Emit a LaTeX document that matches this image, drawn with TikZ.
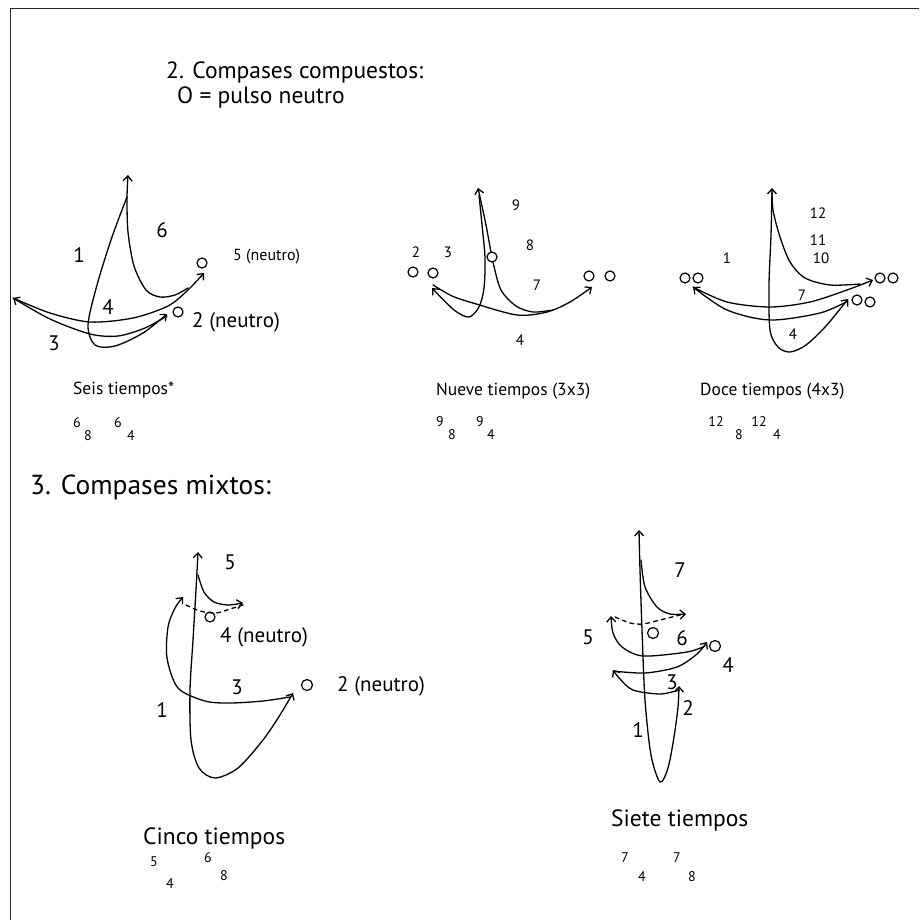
\documentclass[tikz,border=0pt]{standalone}
\usepackage{fontspec}
\setmainfont{PT Sans}
\usetikzlibrary{arrows.meta}
\begin{document}
\begin{tikzpicture}[x=1pt,y=-1pt,
  stroke/.style={line width=1.3pt, line cap=round, line join=round},
  tipa/.tip={Straight Barb[length=5pt,width=9pt,line width=1.3pt]},
  arr/.style={stroke, -tipa},
  darr/.style={stroke, tipa-tipa},
  dsh/.style={stroke, dash pattern=on 4pt off 4pt},
  ring/.style={circle, draw, line width=1.2pt, minimum size=10pt, inner sep=0pt},
  big/.style={font=\fontsize{21}{23}\selectfont, inner sep=0pt},
  med/.style={font=\fontsize{15}{17}\selectfont, inner sep=0pt},
  sml/.style={font=\fontsize{16}{18}\selectfont, inner sep=0pt},
  captxt/.style={font=\fontsize{17.5}{19}\selectfont, inner sep=0pt, anchor=west},
  ts/.style={font=\fontsize{14}{16}\selectfont, inner sep=0pt},
  title/.style={font=\fontsize{23.5}{26}\selectfont, inner sep=0pt, anchor=west},
]
\useasboundingbox (0,0) rectangle (919,920);
\draw[line width=1.5pt, draw=black!85] (10.5,920) -- (10.5,8.5) -- (919,8.5);

% headings
\node[title] (h1) at (166,72) {2. Compases compuestos:};
\node[title] (h2) at (177,97) {O = pulso neutro};
\node[title, font=\fontsize{27.5}{30}\selectfont] (h3) at (30,487) {3. Compases mixtos:};

% ---------- Diagram 1: Seis tiempos ----------
\node[ring] (c1a) at (202,263) {};
\node[ring] (c1b) at (178,312) {};
\draw[arr] plot[smooth] coordinates {(127,197) (112,237) (97,285) (88,325) (95,345) (115,346) (143,333) (167,314)};
\draw[arr] plot[smooth] coordinates {(167,316) (145,328) (118,336) (90,334) (50,319) (13,298)};
\draw[arr] plot[smooth] coordinates {(13,298) (50,313) (90,322) (133,318) (168,306) (188,290) (204,273)};
\draw[arr] plot[smooth] coordinates {(188,288) (175,295) (160,297) (146,290) (134,266) (128,232) (127,198) (128,175)};
\node[big] (l6) at (162,230) {6};
\node[big] (l1) at (79,255) {1};
\node[big] (l4) at (108,307) {4};
\node[big] (l3) at (54,343) {3};
\node[sml, anchor=west] (l5n) at (233,257) {5 (neutro)};
\node[big, anchor=west] (l2n) at (192,322) {2 (neutro)};
\node[captxt] (t1) at (73,390) {Seis tiempos*};
\node[ts] at (77,423) {6};
\node[ts] at (88,436) {8};
\node[ts] at (118,423) {6};
\node[ts] at (131,436) {4};

% ---------- Diagram 2: Nueve tiempos ----------
\node[ring] (c2a) at (413,272) {};
\node[ring] (c2b) at (433,273) {};
\node[ring] (c2d) at (589,276) {};
\node[ring] (c2e) at (610,276) {};
\draw[arr] plot[smooth] coordinates {(479,195) (482,225) (485,258) (484,288) (479,307) (469,317) (454,310) (432,288)};
\draw[arr] plot[smooth] coordinates {(433,285) (452,296) (473,303) (517,315) (547,312) (570,302) (592,287)};
\draw[arr] plot[smooth] coordinates {(553,310) (533,312) (516,306) (501,290) (493,262) (486,225) (478,188)};
\node[ring, fill=white] (c2c) at (492,257) {};
\node[med] at (516,205) {9};
\node[med] at (416,252) {2};
\node[med] at (448,252) {3};
\node[med] at (530,245) {8};
\node[med] at (537,285) {7};
\node[med] at (520,340) {4};
\node[captxt] (t2) at (436,391) {Nueve tiempos (3x3)};
\node[ts] at (440,422) {9};
\node[ts] at (452,435) {8};
\node[ts] at (480,422) {9};
\node[ts] at (491,435) {4};

% ---------- Diagram 3: Doce tiempos ----------
\node[ring] (c3a) at (685,278) {};
\node[ring] (c3b) at (698,278) {};
\node[ring] (c3c) at (880,278) {};
\node[ring] (c3d) at (893,278) {};
\node[ring] (c3e) at (857,300) {};
\node[ring] (c3f) at (870,302) {};
\draw[arr] plot[smooth] coordinates {(772,192) (771,235) (769,285) (770,330) (778,347) (790,352) (806,345) (826,326) (848,299)};
\draw[arr] plot[smooth] coordinates {(848,301) (820,313) (770,320) (727,310) (693,287)};
\draw[arr] plot[smooth] coordinates {(693,287) (727,302) (770,307) (810,302) (847,290) (873,280)};
\draw[arr] plot[smooth] coordinates {(860,284) (830,285) (805,278) (790,262) (780,237) (773,210) (772,188)};
\node[med] at (818,213) {12};
\node[med] at (818,240) {11};
\node[med] at (821,258) {10};
\node[med] at (727,258) {1};
\node[med] at (802,295) {7};
\node[med] at (793,334) {4};
\node[captxt] (t3) at (700,391) {Doce tiempos (4x3)};
\node[ts] at (716,422) {12};
\node[ts] at (739,435) {8};
\node[ts] at (759,422) {12};
\node[ts] at (777,435) {4};

% ---------- Diagram 4: Cinco tiempos ----------
\node[ring] (c4a) at (210,617) {};
\node[ring, minimum size=11pt] (c4b) at (307,685) {};
\draw[darr] plot[smooth] coordinates {(198,552) (196,590) (193,640) (190,690) (191,740) (199,768) (215,778) (238,768) (263,740) (280,715) (293,693)};
\draw[arr] plot[smooth] coordinates {(290,697) (263,701) (230,703) (205,701) (178,688) (167,658) (168,627) (175,608) (183,597)};
\draw[arr] plot[smooth] coordinates {(198,575) (204,592) (214,602) (228,605) (243,603)};
\draw[dsh] plot[smooth] coordinates {(186,605) (200,611) (216,613) (230,609) (243,605)};
\node[big] at (230,562) {5};
\node[big, anchor=west] at (220,637) {4 (neutro)};
\node[big] at (237,687) {3};
\node[big, anchor=west] at (337,686) {2 (neutro)};
\node[big] at (162,710) {1};
\node[title, font=\fontsize{23.5}{26}\selectfont] (t4) at (143,838) {Cinco tiempos};
\node[ts] at (154,862) {5};
\node[ts] at (170,884) {4};
\node[ts] at (208,858) {6};
\node[ts] at (224,876) {8};

% ---------- Diagram 5: Siete tiempos ----------
\node[ring, minimum size=11pt] (c5a) at (653,633) {};
\node[ring, minimum size=11pt] (c5b) at (715,646) {};
\draw[darr] plot[smooth] coordinates {(639,530) (640,570) (642,630) (645,700) (651,755) (660,782) (668,768) (674,737) (678,707) (679,686)};
\draw[arr] plot[smooth] coordinates {(679,690) (660,694) (633,690) (620,679) (613,670)};
\draw[arr] plot[smooth] coordinates {(613,671) (645,673) (677,667) (697,654) (707,642)};
\draw[arr] plot[smooth] coordinates {(705,646) (687,652) (643,656) (622,647) (613,633) (611,616)};
\draw[dsh] plot[smooth] coordinates {(615,617) (630,623) (643,624) (660,620) (684,614)};
\draw[arr] plot[smooth] coordinates {(641,560) (645,587) (657,607) (670,614) (686,614)};
\node[big] at (680,570) {7};
\node[big] at (588,637) {5};
\node[big] at (682,638) {6};
\node[big] at (728,665) {4};
\node[big] at (672,682) {3};
\node[big] at (688,708) {2};
\node[big] at (638,730) {1};
\node[title, font=\fontsize{23.5}{26}\selectfont] (t5) at (611,820) {Siete tiempos};
\node[ts] at (625,858) {7};
\node[ts] at (642,877) {4};
\node[ts] at (677,858) {7};
\node[ts] at (692,877) {8};
\end{tikzpicture}
\end{document}
